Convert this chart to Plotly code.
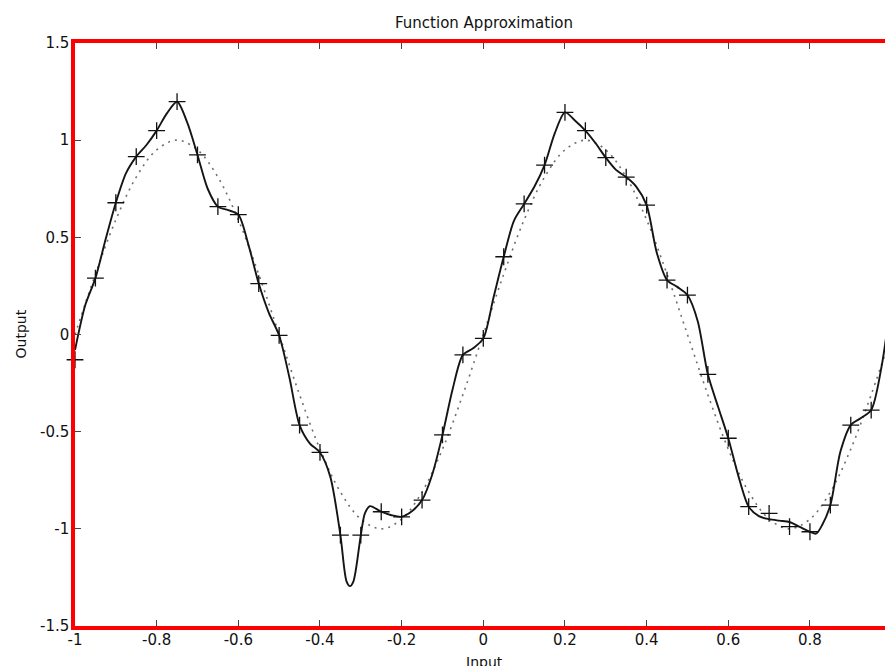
import plotly.graph_objects as go

# Training inputs and noisy targets
x_train = [-1.0, -0.95, -0.9, -0.85, -0.8, -0.75, -0.7, -0.65, -0.6, -0.55,
           -0.5, -0.45, -0.4, -0.35, -0.3, -0.25, -0.2, -0.15, -0.1, -0.05,
           0.0, 0.05, 0.1, 0.15, 0.2, 0.25, 0.3, 0.35, 0.4, 0.45,
           0.5, 0.55, 0.6, 0.65, 0.7, 0.75, 0.8, 0.85, 0.9, 0.95, 1.0]
t_train = [-0.13, 0.29, 0.678, 0.915, 1.049, 1.198, 0.924, 0.658, 0.617, 0.262,
           -0.005, -0.466, -0.607, -1.032, -1.032, -0.912, -0.938, -0.852, -0.517, -0.105,
           -0.02, 0.40, 0.672, 0.872, 1.143, 1.049, 0.91, 0.81, 0.666, 0.28,
           0.203, -0.205, -0.534, -0.886, -0.92, -0.989, -1.015, -0.878, -0.466, -0.389, 0.02]

# Underlying function (dotted)
y_true = [0.0, 0.31, 0.59, 0.81, 0.95, 1.0, 0.95, 0.81, 0.59, 0.31,
          0.0, -0.31, -0.59, -0.81, -0.95, -1.0, -0.95, -0.81, -0.59, -0.31,
          0.0, 0.31, 0.59, 0.81, 0.95, 1.0, 0.95, 0.81, 0.59, 0.31,
          0.0, -0.31, -0.59, -0.81, -0.95, -1.0, -0.95, -0.81, -0.59, -0.31, 0.0]

# Network response (solid)
x_net = [-1.0, -0.975, -0.95, -0.925, -0.9, -0.875, -0.85, -0.825, -0.8, -0.775,
         -0.75, -0.725, -0.7, -0.675, -0.65, -0.625, -0.6, -0.575, -0.55, -0.525,
         -0.5, -0.475, -0.45, -0.425, -0.4, -0.375, -0.35, -0.335, -0.3265, -0.318,
         -0.3, -0.29, -0.2775, -0.25, -0.225, -0.2, -0.175, -0.15, -0.125, -0.1,
         -0.075, -0.05, -0.025, 0.0, 0.025, 0.05, 0.075, 0.1, 0.125, 0.15,
         0.175, 0.2, 0.225, 0.25, 0.275, 0.3, 0.325, 0.35, 0.375, 0.4,
         0.425, 0.45, 0.475, 0.5, 0.525, 0.55, 0.575, 0.6, 0.625, 0.65,
         0.675, 0.7, 0.725, 0.75, 0.775, 0.8, 0.815, 0.83, 0.85, 0.875,
         0.9, 0.925, 0.95, 0.975, 1.0]
y_net = [-0.08, 0.15, 0.29, 0.49, 0.678, 0.83, 0.915, 0.975, 1.049, 1.138,
         1.198, 1.09, 0.924, 0.75, 0.658, 0.64, 0.617, 0.46, 0.262, 0.11,
         -0.005, -0.22, -0.466, -0.56, -0.607, -0.73, -1.032, -1.27, -1.295, -1.27,
         -1.032, -0.92, -0.883, -0.912, -0.93, -0.938, -0.91, -0.852, -0.72, -0.517,
         -0.28, -0.105, -0.071, -0.02, 0.19, 0.40, 0.585, 0.672, 0.76, 0.872,
         1.035, 1.143, 1.10, 1.049, 0.984, 0.91, 0.847, 0.81, 0.76, 0.666,
         0.42, 0.28, 0.245, 0.203, 0.07, -0.205, -0.372, -0.534, -0.73, -0.886,
         -0.935, -0.95, -0.958, -0.965, -0.99, -1.015, -1.025, -0.98, -0.878, -0.6,
         -0.466, -0.43, -0.389, -0.17, 0.2]

x_ticks = [-1, -0.8, -0.6, -0.4, -0.2, 0, 0.2, 0.4, 0.6, 0.8, 1]
x_tick_text = ["-1", "-0.8", "-0.6", "-0.4", "-0.2", "0", "0.2", "0.4", "0.6", "0.8", "1"]
y_ticks = [-1.5, -1, -0.5, 0, 0.5, 1, 1.5]
y_tick_text = ["-1.5", "-1", "-0.5", "0", "0.5", "1", "1.5"]

FONT = "DejaVu Sans"

fig = go.Figure()
fig.add_trace(go.Scatter(
    x=x_train, y=y_true, mode="lines",
    line=dict(color="#6f6f6f", width=1.6, dash="2px,5px", shape="spline"),
    hoverinfo="skip", showlegend=False))
fig.add_trace(go.Scatter(
    x=x_net, y=y_net, mode="lines",
    line=dict(color="#151515", width=1.9, shape="spline", smoothing=0.8),
    showlegend=False))
fig.add_trace(go.Scatter(
    x=x_train, y=t_train, mode="markers", cliponaxis=False,
    marker=dict(symbol="cross-thin", size=12, line=dict(color="#111111", width=1.3)),
    showlegend=False))

fig.update_layout(
    width=885, height=666,
    margin=dict(l=75, r=0, t=43, b=40),
    paper_bgcolor="white", plot_bgcolor="white",
    font=dict(family=FONT, size=15, color="#111111"),
    title=dict(text="Function Approximation", x=0.505, xref="paper",
               y=1 - 23 / 666, yref="container", xanchor="center", yanchor="middle",
               font=dict(family=FONT, size=15, color="#111111")),
    xaxis=dict(range=[-1, -1 + 810 / 408.3], tickvals=x_ticks, ticktext=x_tick_text,
               showgrid=False, zeroline=False, showline=True, linecolor="#ff0000",
               linewidth=3.5, mirror="ticks", ticks="inside", ticklen=6,
               tickcolor="#444444", tickwidth=1, ticklabelstandoff=-3),
    yaxis=dict(range=[-1.5, 1.5], tickvals=y_ticks, ticktext=y_tick_text,
               showgrid=False, zeroline=False, showline=True, linecolor="#ff0000",
               linewidth=3.5, mirror=False, ticks="inside", ticklen=6,
               tickcolor="#444444", tickwidth=1, ticklabelstandoff=-1),
    annotations=[
        dict(text="Input", x=0.505, xref="paper", y=-36 / 583, yref="paper",
             showarrow=False, xanchor="center", yanchor="middle",
             font=dict(family=FONT, size=14, color="#111111")),
        dict(text="Output", x=-55 / 810, xref="paper", y=0.5, yref="paper",
             showarrow=False, textangle=-90, xanchor="center", yanchor="middle",
             font=dict(family=FONT, size=14, color="#111111")),
    ],
)

fig.write_html("out.html")
